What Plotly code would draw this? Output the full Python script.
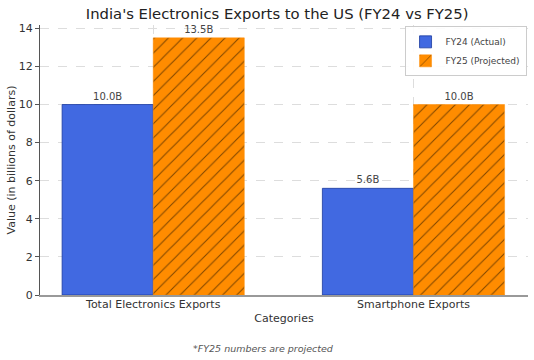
import plotly.graph_objects as go

categories = ["Total Electronics Exports", "Smartphone Exports"]
fy24_values = [10.0, 5.6]
fy25_values = [13.5, 10.0]
series_names = ["FY24 (Actual)", "FY25 (Projected)"]
y_ticks = [0, 2, 4, 6, 8, 10, 12, 14]

FONT = "DejaVu Sans"

fig = go.Figure()
fig.add_trace(go.Bar(
    x=categories, y=fy24_values, name=series_names[0],
    marker=dict(color="#4169E1", line=dict(color="#1a3a9e", width=0.8)),
    text=[f"{v:.1f}B" for v in fy24_values], textposition="outside",
    textfont=dict(family=FONT, size=10, color="#444444"),
    cliponaxis=False,
))
fig.add_trace(go.Bar(
    x=categories, y=fy25_values, name=series_names[1],
    marker=dict(color="#FF8C00", line=dict(color="#FF8C00", width=0.5),
                pattern=dict(shape="/", fgcolor="black", bgcolor="#FF8C00",
                             size=10, solidity=0.1, fillmode="overlay")),
    text=[f"{v:.1f}B" for v in fy25_values], textposition="outside",
    textfont=dict(family=FONT, size=10, color="#444444"),
    cliponaxis=False,
))

fig.update_layout(
    width=534, height=360,
    margin=dict(l=40, r=6, t=25, b=65),
    paper_bgcolor="white", plot_bgcolor="white",
    font=dict(family=FONT, color="#333333"),
    barmode="group", bargap=0.3, bargroupgap=0,
    title=dict(text="India's Electronics Exports to the US (FY24 vs FY25)",
               x=0.519, xanchor="center", y=0.962, yanchor="middle",
               font=dict(family=FONT, size=14.8, color="#222222")),
    legend=dict(x=0.997, xanchor="right", y=0.995, yanchor="top",
                bgcolor="rgba(255,255,255,0.9)", bordercolor="#cccccc", borderwidth=1,
                font=dict(family=FONT, size=9, color="#444444"),
                itemwidth=30, tracegroupgap=0),
    showlegend=True,
)
fig.update_xaxes(
    range=[-0.435, 1.44], automargin=False,
    showgrid=True, gridcolor="#dddddd", griddash="dash", gridwidth=0.8,
    showline=True, linecolor="#999999", linewidth=1.5,
    ticks="", ticklabelstandoff=-2, tickfont=dict(family=FONT, size=11, color="#333333"),
    title=dict(text="Categories", font=dict(family=FONT, size=11, color="#333333"), standoff=4),
)
fig.update_yaxes(
    range=[0, 14.175], tickvals=y_ticks, automargin=False,
    showgrid=True, gridcolor="#dddddd", griddash="dash", gridwidth=0.8,
    zeroline=False,
    showline=True, linecolor="#555555", linewidth=1,
    ticks="outside", ticklen=4, tickcolor="#555555",
    tickfont=dict(family=FONT, size=11, color="#333333"),
    title=dict(text="Value (in billions of dollars)", font=dict(family=FONT, size=11, color="#333333"), standoff=0),
)
fig.add_annotation(
    text="<i>*FY25 numbers are projected</i>", xref="paper", yref="paper",
    x=(263 - 40) / 488, y=-(348 - 295) / 270, xanchor="center", yanchor="middle",
    showarrow=False, font=dict(family=FONT, size=9.5, color="#555555"),
)
fig.write_html("out.html", config={"displayModeBar": False},
               post_script="document.body.style.margin='0';document.body.style.padding='0';")
